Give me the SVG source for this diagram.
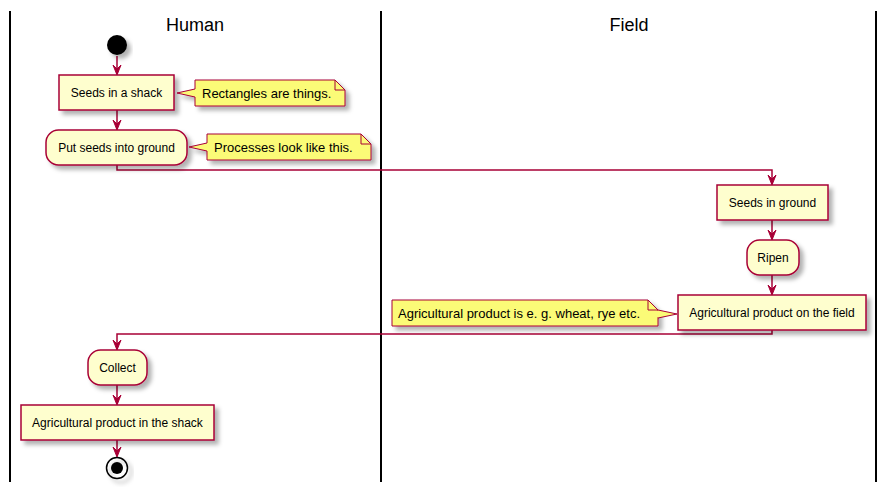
<svg xmlns="http://www.w3.org/2000/svg" width="887" height="491" viewBox="0 0 887 491">
<defs>
<filter id="sh" x="-20%" y="-20%" width="150%" height="160%">
<feDropShadow dx="4" dy="4" stdDeviation="2" flood-color="#000" flood-opacity="0.3"/>
</filter>
<marker id="ah" markerWidth="10" markerHeight="12" viewBox="-5 -11 10 12" refX="0" refY="0" orient="auto-start-reverse" markerUnits="userSpaceOnUse">
<polygon points="0,0 -4,-10 0,-6 4,-10" fill="#A80036" stroke="#A80036" stroke-width="1" transform="rotate(-90)"/>
</marker>
<style>
.lane{stroke:#000;stroke-width:2;fill:none}
.title{font-family:"Liberation Sans",Arial,sans-serif;font-size:18px;fill:#000;text-anchor:middle}
.act{fill:#FEFECE;stroke:#A80036;stroke-width:1.5;filter:url(#sh)}
.note{fill:#FBFB77;stroke:#A80036;stroke-width:1;filter:url(#sh)}
.fold{fill:none;stroke:#A80036;stroke-width:1}
.t{font-family:"Liberation Sans",Arial,sans-serif;font-size:12px;fill:#000;text-anchor:middle}
.nt{font-family:"Liberation Sans",Arial,sans-serif;font-size:13px;fill:#000}
.con{fill:none;stroke:#A80036;stroke-width:1.5}
.ahd{fill:#A80036;stroke:#A80036;stroke-width:1}
</style>
</defs>
<rect width="887" height="491" fill="#fff"/>
<g id="lanes">
<line class="lane" x1="10" y1="11" x2="10" y2="482"/>
<line class="lane" x1="381" y1="11" x2="381" y2="482"/>
<line class="lane" x1="876" y1="11" x2="876" y2="482"/>
<text class="title" x="195" y="31">Human</text>
<text class="title" x="629" y="31">Field</text>
</g>
<g id="connectors">
<path class="con" d="M117,56 L117,74"/>
<polygon class="ahd" points="117,75 113,65 117,69 121,65"/>
<path class="con" d="M117,110 L117,129"/>
<polygon class="ahd" points="117,130 113,120 117,124 121,120"/>
<path class="con" d="M117,165 L117,170 L772,170 L772,184"/>
<polygon class="ahd" points="772,185 768,175 772,179 776,175"/>
<path class="con" d="M772,220 L772,239"/>
<polygon class="ahd" points="772,240 768,230 772,234 776,230"/>
<path class="con" d="M772,275 L772,294"/>
<polygon class="ahd" points="772,295 768,285 772,289 776,285"/>
<path class="con" d="M772,330 L772,334 L117,334 L117,349"/>
<polygon class="ahd" points="117,350 113,340 117,344 121,340"/>
<path class="con" d="M117,385 L117,404"/>
<polygon class="ahd" points="117,405 113,395 117,399 121,395"/>
<path class="con" d="M117,440 L117,456"/>
<polygon class="ahd" points="117,457 113,447 117,451 121,447"/>
</g>
<g id="start">
<circle cx="117" cy="45" r="10" fill="#000" filter="url(#sh)"/>
</g>
<g id="seeds_shack">
<rect class="act" x="59" y="75" width="115" height="35"/>
<text class="t" x="116.5" y="97">Seeds in a shack</text>
</g>
<g id="note_things">
<path class="note" d="M195,80 L335,80 L345,90 L345,106 L195,106 L195,97 L177,93 L195,89 Z"/>
<path class="fold" d="M335,80 L335,90 L345,90"/>
<text class="nt" x="202" y="98">Rectangles are things.</text>
</g>
<g id="put_seeds">
<rect class="act" x="46" y="130" width="141" height="35" rx="12.5" ry="12.5"/>
<text class="t" x="116.5" y="152">Put seeds into ground</text>
</g>
<g id="note_processes">
<path class="note" d="M207,134 L361,134 L371,144 L371,160 L207,160 L207,151 L189,147 L207,143 Z"/>
<path class="fold" d="M361,134 L361,144 L371,144"/>
<text class="nt" x="214" y="152">Processes look like this.</text>
</g>
<g id="seeds_ground">
<rect class="act" x="717" y="185" width="111" height="35"/>
<text class="t" x="772.5" y="207">Seeds in ground</text>
</g>
<g id="ripen">
<rect class="act" x="747" y="240" width="52" height="35" rx="12.5" ry="12.5"/>
<text class="t" x="773" y="262">Ripen</text>
</g>
<g id="product_field">
<rect class="act" x="678" y="295" width="188" height="35"/>
<text class="t" x="772" y="317">Agricultural product on the field</text>
</g>
<g id="note_product">
<path class="note" d="M392,300 L648,300 L658,310 L658,326 L392,326 Z"/>
<path class="note" d="M658,310 L677,314 L658,318" style="filter:none"/>
<path d="M657.5,310.8 L657.5,317.2" stroke="#FBFB77" stroke-width="1.2"/>
<path class="fold" d="M648,300 L648,310 L658,310"/>
<text class="nt" x="398" y="318">Agricultural product is e. g. wheat, rye etc.</text>
</g>
<g id="collect">
<rect class="act" x="88" y="350" width="59" height="35" rx="12.5" ry="12.5"/>
<text class="t" x="117.5" y="372">Collect</text>
</g>
<g id="product_shack">
<rect class="act" x="21" y="405" width="193" height="35"/>
<text class="t" x="117.5" y="427">Agricultural product in the shack</text>
</g>
<g id="end">
<circle cx="117" cy="468" r="10.5" fill="none" stroke="#000" stroke-width="1.5" filter="url(#sh)"/>
<circle cx="117" cy="468" r="6" fill="#000"/>
</g>
</svg>
